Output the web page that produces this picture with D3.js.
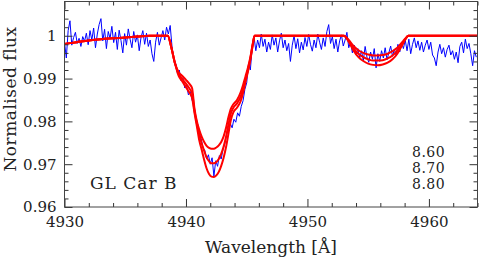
<!DOCTYPE html>
<html>
<head>
<meta charset="utf-8">
<script src="https://cdn.jsdelivr.net/npm/d3@7"></script>
<style>
  html, body { margin: 0; padding: 0; background: #fff; }
  svg { display: block; }
  text { font-family: "DejaVu Serif", serif; fill: #222; }
</style>
</head>
<body>
<svg id="chart" width="480" height="257"></svg>
<script>
// observed spectrum, regular wavelength grid
const obsStart = 4930;
const obsStep = 0.15;
const obsFlux = [
  0.9985, 0.9948, 1.0012, 1.0035, 0.9978, 0.9996, 1.0008, 0.9982, 0.9994, 0.9975,
  0.9998, 0.9987, 1.0006, 0.9979, 1.0012, 0.9990, 1.0018, 0.9972, 1.0004, 1.0026,
  1.0040, 0.9988, 1.0015, 0.9970, 1.0010, 0.9994, 1.0022, 0.9984, 1.0008, 0.9968,
  1.0013, 0.9989, 0.9960, 1.0005, 0.9978, 1.0016, 0.9992, 0.9972, 1.0010, 0.9985,
  1.0002, 0.9965, 0.9996, 1.0012, 0.9980, 1.0006, 0.9975, 0.9990, 0.9958, 0.9940,
  0.9985, 1.0008, 0.9978, 0.9995, 1.0012, 0.9990, 1.0020, 1.0004, 1.0024, 0.9975,
  0.9945, 0.9935, 0.9912, 0.9920, 0.9895, 0.9902, 0.9878, 0.9885, 0.9862, 0.9870,
  0.9850, 0.9838, 0.9810, 0.9795, 0.9772, 0.9760, 0.9738, 0.9732, 0.9712, 0.9722,
  0.9700, 0.9715, 0.9672, 0.9708, 0.9695, 0.9720, 0.9712, 0.9735, 0.9748, 0.9770,
  0.9780, 0.9795, 0.9785, 0.9805, 0.9798, 0.9820, 0.9812, 0.9835, 0.9848, 0.9875,
  0.9890, 0.9935, 0.9920, 0.9972, 0.9998, 0.9965, 0.9990, 0.9972, 1.0004, 0.9975,
  0.9992, 0.9962, 0.9985, 0.9968, 1.0002, 0.9978, 0.9995, 0.9962, 0.9988, 1.0006,
  0.9972, 0.9990, 0.9965, 0.9982, 0.9940, 0.9978, 1.0000, 0.9970, 0.9993, 0.9960,
  0.9985, 0.9967, 0.9996, 0.9975, 1.0003, 0.9980, 0.9964, 0.9990, 0.9972, 1.0004,
  0.9985, 0.9968, 0.9995, 0.9975, 1.0010, 1.0026, 0.9982, 0.9998, 0.9970, 0.9992,
  0.9962, 0.9988, 1.0002, 0.9976, 0.9990, 1.0008, 0.9972, 0.9985, 0.9960, 0.9978,
  0.9955, 0.9970, 0.9948, 0.9965, 0.9942, 0.9975, 0.9950, 0.9938, 0.9962, 0.9945,
  0.9970, 0.9925, 0.9958, 0.9940, 0.9965, 0.9948, 0.9972, 0.9944, 0.9960, 0.9976,
  0.9952, 0.9968, 0.9955, 0.9980, 0.9962, 0.9985, 0.9970, 0.9990, 0.9965, 0.9992,
  0.9958, 0.9980, 0.9995, 0.9972, 0.9988, 0.9966, 0.9985, 0.9962, 0.9978, 0.9990,
  0.9968, 0.9985, 0.9955, 0.9948, 0.9930, 0.9962, 0.9980, 0.9958, 0.9972, 0.9950,
  0.9968, 0.9978, 0.9955, 0.9965, 0.9945, 0.9962, 0.9937, 0.9975, 0.9985, 0.9960,
  0.9992, 0.9970, 0.9982, 0.9958, 0.9930, 0.9965, 0.9950
];

// synthetic spectra on a shared wavelength grid
const modelWave = [
  4930, 4931, 4932, 4933, 4934, 4935, 4936, 4937,
  4938.5, 4938.8, 4939.1, 4939.4, 4939.7, 4940.0, 4940.3, 4940.5, 4940.7, 4940.9,
  4941.1, 4941.3, 4941.5, 4941.7, 4941.9, 4942.1, 4942.3, 4942.5, 4942.7, 4942.9,
  4943.1, 4943.3, 4943.5, 4943.7, 4943.9, 4944.2, 4944.5, 4944.7, 4944.9, 4945.1,
  4945.3, 4945.5, 4945.65,
  4953.0, 4953.4, 4953.8, 4954.2, 4954.6, 4955.0, 4955.4, 4955.8, 4956.2, 4956.6,
  4957.0, 4957.4, 4957.8, 4958.1, 4958.3,
  4964
];
const model860 = [
  0.9981, 0.9985, 0.9989, 0.9992, 0.9994, 0.9996, 0.9998, 1.0,
  1.0, 0.9972, 0.9935, 0.9915, 0.9906, 0.9897, 0.9887, 0.9878, 0.9830, 0.9800,
  0.9780, 0.9764, 0.9752, 0.9743, 0.9738, 0.9736, 0.9736, 0.9739, 0.9744, 0.9752,
  0.9765, 0.9785, 0.9810, 0.9830, 0.9840, 0.9850, 0.9868, 0.9885, 0.9905, 0.9925,
  0.9950, 0.9982, 1.0,
  1.0, 0.9990, 0.9976, 0.9966, 0.9960, 0.9956, 0.9954, 0.9954, 0.9955, 0.9958,
  0.9964, 0.9972, 0.9985, 0.9995, 1.0,
  1.0
];
const model870 = [
  0.9981, 0.9985, 0.9989, 0.9992, 0.9994, 0.9996, 0.9998, 1.0,
  1.0, 0.9972, 0.9935, 0.9911, 0.9899, 0.9888, 0.9876, 0.9866, 0.9825, 0.9795,
  0.9768, 0.9748, 0.9731, 0.9716, 0.9707, 0.9702, 0.9702, 0.9705, 0.9712, 0.9724,
  0.9741, 0.9764, 0.9793, 0.9819, 0.9832, 0.9842, 0.9858, 0.9876, 0.9898, 0.9920,
  0.9947, 0.9980, 1.0,
  1.0, 0.9988, 0.9970, 0.9958, 0.9950, 0.9945, 0.9942, 0.9942, 0.9943, 0.9947,
  0.9954, 0.9965, 0.9981, 0.9994, 1.0,
  1.0
];
const model880 = [
  0.9981, 0.9985, 0.9989, 0.9992, 0.9994, 0.9996, 0.9998, 1.0,
  1.0, 0.9972, 0.9935, 0.9906, 0.9893, 0.9880, 0.9866, 0.9855, 0.9820, 0.9788,
  0.9755, 0.9733, 0.9710, 0.9690, 0.9677, 0.9671, 0.9670, 0.9674, 0.9682, 0.9696,
  0.9715, 0.9740, 0.9772, 0.9804, 0.9821, 0.9832, 0.9847, 0.9866, 0.9892, 0.9916,
  0.9944, 0.9978, 1.0,
  1.0, 0.9986, 0.9965, 0.9950, 0.9941, 0.9935, 0.9932, 0.9931, 0.9933, 0.9937,
  0.9945, 0.9958, 0.9978, 0.9993, 1.0,
  1.0
];
const modelLabels = ['8.60', '8.70', '8.80'];
const starName = 'GL Car B';

const xMajor = [4930, 4940, 4950, 4960];
const xMinor = [4932, 4934, 4936, 4938, 4942, 4944, 4946, 4948, 4952, 4954, 4956, 4958, 4962, 4964];
const yMajor = [0.96, 0.97, 0.98, 0.99, 1];
const yMinor = [0.962, 0.964, 0.966, 0.968, 0.972, 0.974, 0.976, 0.978, 0.982, 0.984,
  0.986, 0.988, 0.992, 0.994, 0.996, 0.998, 1.002, 1.004, 1.006];

const margin = {left: 64.5, right: 2.5, top: 1.5, bottom: 50};
const W = 480, H = 257;
const font = '"DejaVu Serif", serif';

const x = d3.scaleLinear().domain([4930, 4964]).range([margin.left, W - margin.right]);
const y = d3.scaleLinear().domain([0.96, 1.008]).range([H - margin.bottom, margin.top]);

const svg = d3.select('#chart');

const plot = svg.append('g');
plot.append('clipPath')
    .attr('id', 'clip')
  .append('rect')
    .attr('x', margin.left)
    .attr('y', margin.top)
    .attr('width', W - margin.left - margin.right)
    .attr('height', H - margin.top - margin.bottom)
  ;

const obs = obsFlux.map((f, i) => ({w: obsStart + i * obsStep, f}));
const line = d3.line().x(d => x(d.w)).y(d => y(d.f));

plot.append('path')
  .datum(obs)
  .attr('clip-path', 'url(#clip)')
  .attr('fill', 'none')
  .attr('stroke', '#0000ff')
  .attr('stroke-width', 1)
  .attr('d', line)
  ;

const models = [model860, model870, model880].map(m => m.map((f, i) => ({w: modelWave[i], f})));
plot.selectAll('path.model')
  .data(models)
  .enter().append('path')
    .attr('class', 'model')
    .attr('clip-path', 'url(#clip)')
    .attr('fill', 'none')
    .attr('stroke', '#ff0000')
    .attr('stroke-width', 2)
    .attr('d', line.curve(d3.curveMonotoneX))
  ;

// axes: ticks on all four sides, pointing inward
const bottomY = H - margin.bottom, rightX = W - margin.right;
const fmtY = d => d === 1 ? '1' : d3.format('.2f')(d);
const axes = [
  [d3.axisBottom(x).tickValues(xMajor).tickSize(-8).tickPadding(9).tickFormat(d3.format('d')), `translate(0,${bottomY})`],
  [d3.axisBottom(x).tickValues(xMinor).tickSize(-4).tickFormat(''), `translate(0,${bottomY})`],
  [d3.axisTop(x).tickValues(xMajor).tickSize(-8).tickFormat(''), `translate(0,${margin.top})`],
  [d3.axisTop(x).tickValues(xMinor).tickSize(-4).tickFormat(''), `translate(0,${margin.top})`],
  [d3.axisLeft(y).tickValues(yMajor).tickSize(-8).tickPadding(8).tickFormat(fmtY), `translate(${margin.left},0)`],
  [d3.axisLeft(y).tickValues(yMinor).tickSize(-4).tickFormat(''), `translate(${margin.left},0)`],
  [d3.axisRight(y).tickValues(yMajor).tickSize(-8).tickFormat(''), `translate(${rightX},0)`],
  [d3.axisRight(y).tickValues(yMinor).tickSize(-4).tickFormat(''), `translate(${rightX},0)`],
];
axes.forEach(([axis, tr]) => {
  const g = svg.append('g').attr('transform', tr).call(axis);
  g.select('.domain').remove();
  g.selectAll('line').attr('stroke', '#333');
  g.selectAll('text')
    .attr('font-family', font)
    .attr('font-size', 15)
    .attr('fill', '#222');
});

svg.append('rect')
  .attr('x', margin.left)
  .attr('y', margin.top)
  .attr('width', W - margin.left - margin.right)
  .attr('height', H - margin.top - margin.bottom)
  .attr('fill', 'none')
  .attr('stroke', '#444')
  .attr('stroke-width', 1)
  ;

// titles
svg.append('text')
  .attr('x', (margin.left + rightX) / 2)
  .attr('y', 253)
  .attr('text-anchor', 'middle')
  .attr('font-family', font)
  .attr('font-size', 17)
  .text('Wavelength [Å]')
  ;
svg.append('text')
  .attr('transform', 'translate(16,99) rotate(-90)')
  .attr('text-anchor', 'middle')
  .attr('font-family', font)
  .attr('font-size', 17)
  .attr('letter-spacing', 0.5)
  .text('Normalised flux')
  ;
svg.append('text')
  .attr('x', 90)
  .attr('y', 189)
  .attr('font-family', font)
  .attr('font-size', 17)
  .attr('letter-spacing', 1)
  .attr('xml:space', 'preserve')
  .text(starName)
  ;
svg.selectAll('text.mlabel')
  .data(modelLabels)
  .enter().append('text')
    .attr('class', 'mlabel')
    .attr('x', 412)
    .attr('y', (d, i) => 157 + i * 16)
    .attr('font-family', font)
    .attr('font-size', 14)
    .attr('letter-spacing', 0.5)
    .text(d => d)
  ;
</script>
</body>
</html>
